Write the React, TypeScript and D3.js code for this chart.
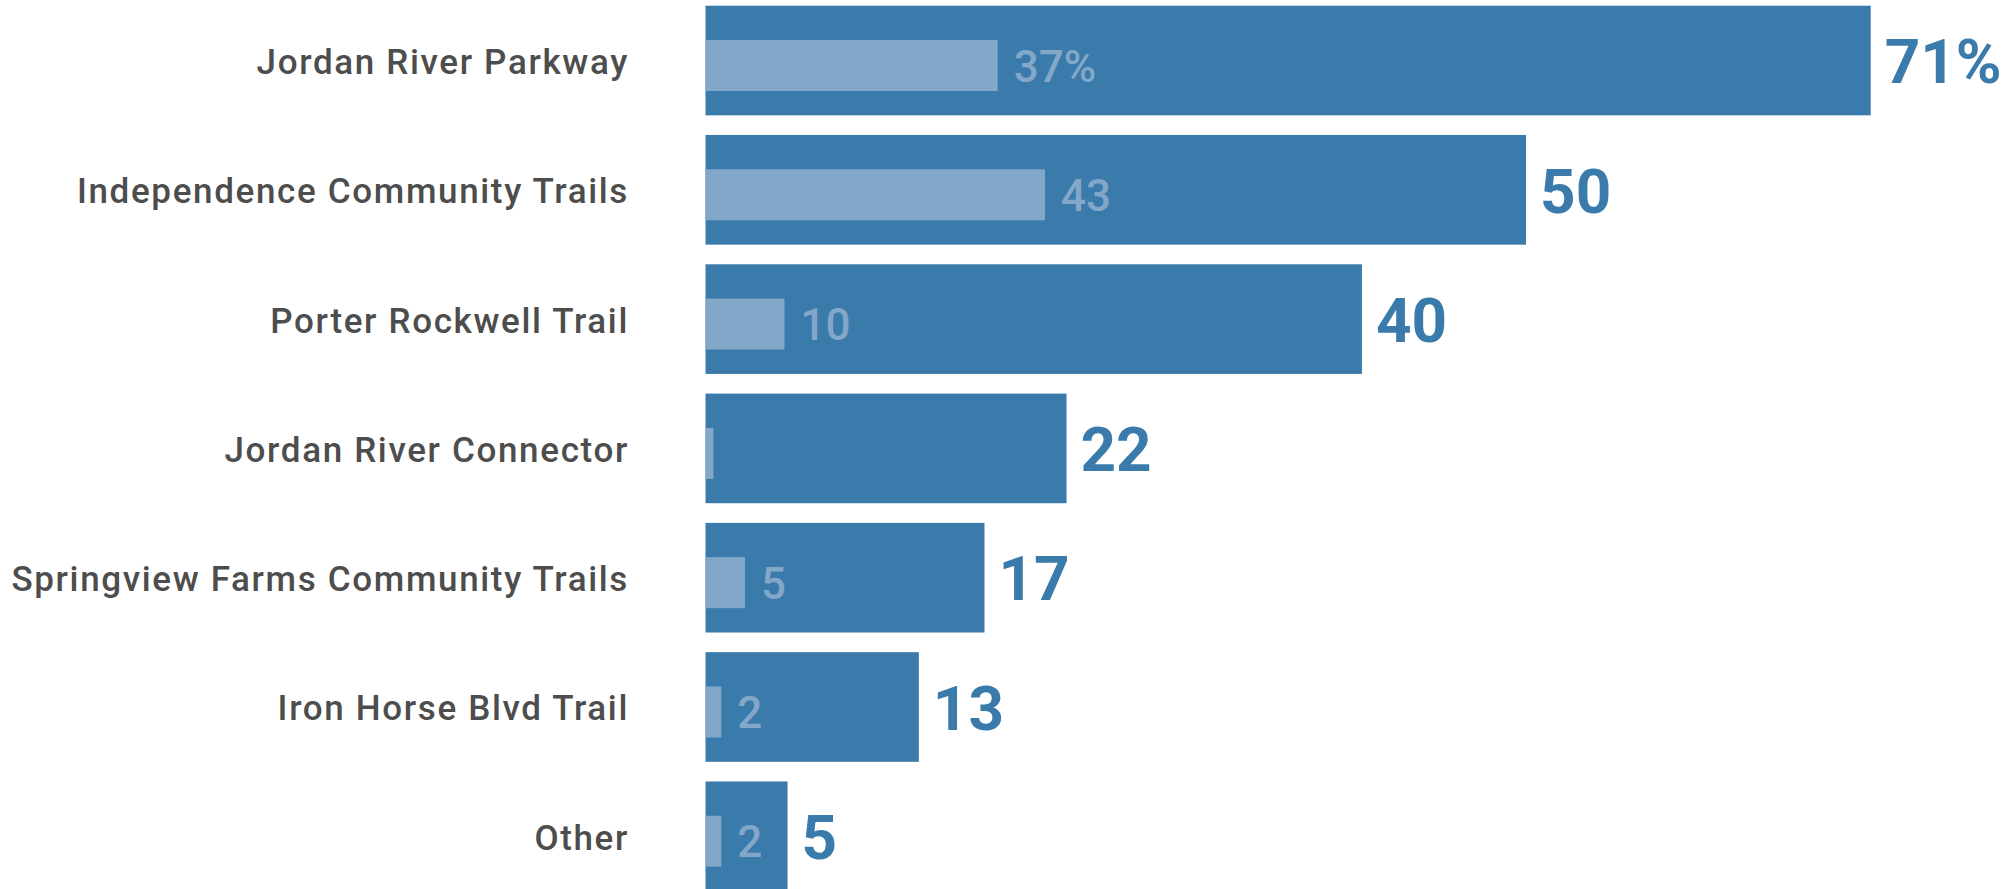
import React from "react";
import * as d3 from "d3";

const categories = [
  "Jordan River Parkway",
  "Independence Community Trails",
  "Porter Rockwell Trail",
  "Jordan River Connector",
  "Springview Farms Community Trails",
  "Iron Horse Blvd Trail",
  "Other",
];
const totalValues = [71, 50, 40, 22, 17, 13, 5];
const innerValues = [37, 43, 10, 1, 5, 2, 2];
const totalLabels = ["71%", "50", "40", "22", "17", "13", "5"];
const innerLabels = ["37%", "43", "10", "", "5", "2", "2"];

const W = 2008;
const H = 889;
const X0 = 705.5;
const OUTER = "#3a7bab";
const INNER = "#83a7c9";
const TEXT = "#4d4d4d";
const FONT = "Roboto, 'Noto Sans', sans-serif";

export default function App() {
  const x = d3.scaleLinear().domain([0, 71]).range([X0, 1870.7]);
  const xi = d3.scaleLinear().domain([0, 43]).range([X0, 1045]);
  const y = d3
    .scaleBand<string>()
    .domain(categories)
    .range([5.7, 891.1])
    .paddingInner(0.152)
    .paddingOuter(0);
  const bw = y.bandwidth();

  return (
    <svg
      width={W}
      height={H}
      style={{ position: "absolute", left: 0, top: 0, background: "#fff" }}
    >
      {categories.map((c, i) => {
        const top = y(c)!;
        return (
          <g key={c}>
            <text
              x={629}
              y={top + 68.3}
              textAnchor="end"
              fontFamily={FONT}
              fontWeight={500}
              fontSize={35}
              letterSpacing={1.65}
              fill={TEXT}
            >
              {c}
            </text>
            <rect
              x={X0}
              y={top}
              width={x(totalValues[i]) - X0}
              height={bw}
              fill={OUTER}
            />
            <rect
              x={X0}
              y={top + 34.3}
              width={xi(innerValues[i]) - X0}
              height={51}
              fill={INNER}
            />
            {innerLabels[i] && (
              <text
                x={xi(innerValues[i]) + 16}
                y={top + 76}
                fontFamily={FONT}
                fontWeight={500}
                fontSize={44}
                fill={INNER}
              >
                {innerLabels[i]}
              </text>
            )}
            <text
              x={x(totalValues[i]) + 14}
              y={top + 77.6}
              fontFamily={FONT}
              fontWeight={700}
              fontSize={62}
              fill={OUTER}
            >
              {totalLabels[i]}
            </text>
          </g>
        );
      })}
    </svg>
  );
}
